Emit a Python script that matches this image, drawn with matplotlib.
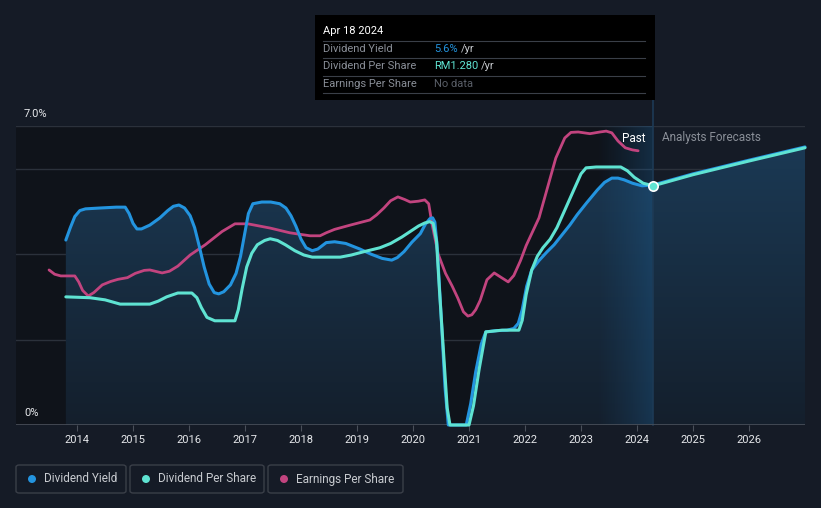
import numpy as np
import matplotlib
matplotlib.use("Agg")
import matplotlib.pyplot as plt
from matplotlib.patches import FancyBboxPatch, Rectangle, Ellipse
from matplotlib.colors import LinearSegmentedColormap

# ---------------- data (values in % on the chart scale) ----------------
dy_x = [2013.80, 2013.88, 2013.96, 2014.05, 2014.15, 2014.41, 2014.70, 2014.86, 2014.93, 2015.00,
        2015.07, 2015.15, 2015.30, 2015.48, 2015.62, 2015.72, 2015.82, 2015.92, 2016.02, 2016.10,
        2016.18, 2016.27, 2016.36, 2016.45, 2016.53, 2016.62, 2016.74, 2016.84, 2016.92, 2016.99,
        2017.06, 2017.14, 2017.30, 2017.46, 2017.62, 2017.73, 2017.82, 2017.91, 2018.00, 2018.09,
        2018.20, 2018.30, 2018.45, 2018.60, 2018.80, 2019.05, 2019.25, 2019.45, 2019.62, 2019.72,
        2019.84, 2019.98, 2020.13, 2020.22, 2020.30, 2020.35, 2020.39, 2020.43, 2020.50, 2020.57,
        2020.63, 2020.95, 2021.03, 2021.12, 2021.22, 2021.30, 2021.50, 2021.68, 2021.80, 2021.88,
        2021.95, 2022.03, 2022.12, 2022.25, 2022.39, 2022.52, 2022.66, 2022.80, 2022.93, 2023.10,
        2023.29, 2023.42, 2023.55, 2023.66, 2023.77, 2023.92, 2024.09, 2024.29, 2025.0, 2026.0,
        2027.0]
dy_y = [4.33, 4.62, 4.88, 5.02, 5.06, 5.08, 5.10, 5.10, 4.95, 4.72,
        4.59, 4.59, 4.68, 4.85, 5.02, 5.12, 5.15, 5.08, 4.90, 4.62,
        4.20, 3.70, 3.30, 3.10, 3.07, 3.12, 3.28, 3.55, 3.95, 4.45,
        4.95, 5.18, 5.22, 5.22, 5.18, 5.08, 4.90, 4.65, 4.35, 4.15,
        4.08, 4.12, 4.27, 4.29, 4.25, 4.12, 4.00, 3.90, 3.86, 3.92,
        4.06, 4.28, 4.48, 4.70, 4.83, 4.85, 4.75, 4.20, 2.60, 0.90,
        0.00, 0.00, 0.50, 1.25, 1.90, 2.18, 2.21, 2.22, 2.26, 2.38,
        2.70, 3.25, 3.63, 3.85, 4.05, 4.22, 4.45, 4.68, 4.92, 5.20,
        5.50, 5.68, 5.78, 5.78, 5.74, 5.66, 5.60, 5.62, 5.88, 6.20,
        6.51]

dps_x = [2013.80, 2014.23, 2014.50, 2014.77, 2015.30, 2015.45, 2015.60, 2015.80, 2016.05, 2016.14,
         2016.22, 2016.32, 2016.46, 2016.82, 2016.88, 2016.95, 2017.03, 2017.12, 2017.22, 2017.35,
         2017.45, 2017.58, 2017.72, 2017.89, 2018.05, 2018.20, 2018.70, 2018.90, 2019.10, 2019.41,
         2019.60, 2019.80, 2019.95, 2020.10, 2020.21, 2020.30, 2020.36, 2020.42, 2020.47, 2020.55,
         2020.61, 2020.66, 2021.00, 2021.08, 2021.18, 2021.30, 2021.59, 2021.89, 2021.95, 2022.02,
         2022.12, 2022.22, 2022.32, 2022.45, 2022.57, 2022.70, 2022.87, 2023.00, 2023.09, 2023.27,
         2023.71, 2023.83, 2023.95, 2024.11, 2024.29, 2025.0, 2026.0, 2027.0]
dps_y = [3.00, 2.98, 2.93, 2.83, 2.83, 2.90, 3.00, 3.09, 3.09, 2.98,
         2.75, 2.52, 2.44, 2.44, 2.70, 3.20, 3.70, 4.02, 4.22, 4.32,
         4.36, 4.32, 4.22, 4.08, 3.98, 3.93, 3.93, 3.98, 4.05, 4.15,
         4.25, 4.40, 4.53, 4.66, 4.73, 4.76, 4.72, 4.30, 3.20, 1.60,
         0.40, 0.00, 0.00, 0.45, 1.30, 2.18, 2.22, 2.22, 2.45, 3.05,
         3.63, 3.95, 4.15, 4.35, 4.62, 5.00, 5.50, 5.88, 6.02, 6.04,
         6.04, 5.95, 5.80, 5.66, 5.60, 5.86, 6.18, 6.49]

eps_x = [2013.50, 2013.60, 2013.71, 2013.96, 2014.03, 2014.10, 2014.20, 2014.30, 2014.45, 2014.60,
         2014.73, 2014.90, 2015.04, 2015.20, 2015.30, 2015.52, 2015.65, 2015.80, 2016.02, 2016.29,
         2016.59, 2016.82, 2017.05, 2017.45, 2017.80, 2018.16, 2018.34, 2018.45, 2018.60, 2018.88,
         2019.23, 2019.35, 2019.48, 2019.60, 2019.73, 2019.85, 2019.95, 2020.10, 2020.21, 2020.28,
         2020.34, 2020.45, 2020.58, 2020.70, 2020.80, 2020.90, 2020.98, 2021.05, 2021.12, 2021.20,
         2021.32, 2021.45, 2021.58, 2021.70, 2021.80, 2021.92, 2022.02, 2022.25, 2022.40, 2022.55,
         2022.71, 2022.82, 2022.95, 2023.16, 2023.34, 2023.45, 2023.55, 2023.66, 2023.79, 2023.92,
         2024.02]
eps_y = [3.63, 3.53, 3.49, 3.49, 3.35, 3.15, 3.02, 3.10, 3.28, 3.36,
         3.41, 3.45, 3.55, 3.62, 3.63, 3.56, 3.60, 3.72, 3.98, 4.22,
         4.53, 4.71, 4.71, 4.61, 4.50, 4.43, 4.43, 4.50, 4.58, 4.68,
         4.80, 4.92, 5.08, 5.25, 5.34, 5.28, 5.22, 5.24, 5.27, 5.18,
         4.70, 4.00, 3.55, 3.25, 2.97, 2.65, 2.55, 2.58, 2.70, 2.92,
         3.40, 3.56, 3.45, 3.35, 3.50, 3.85, 4.20, 4.85, 5.55, 6.25,
         6.72, 6.85, 6.86, 6.82, 6.86, 6.88, 6.84, 6.65, 6.49, 6.44,
         6.42]

year_ticks = [2014, 2015, 2016, 2017, 2018, 2019, 2020, 2021, 2022, 2023, 2024, 2025, 2026]
now_x = 2024.29
now_y = 5.60

C_BG = "#151b26"
C_PAST = "#0f131a"
C_DY = "#2394df"
C_DPS = "#5fe3d2"
C_EPS = "#c2447f"
X0, X1 = 2012.91, 2027.0

fig = plt.figure(figsize=(8.21, 5.08), dpi=100)
fig.patch.set_facecolor(C_BG)
W, H = 821, 508
ax = fig.add_axes([16 / W, (H - 425) / H, (805 - 16) / W, (425 - 126) / H])
ax.set_facecolor(C_BG)
for s in ax.spines.values():
    s.set_visible(False)

# darker past region
ax.axvspan(X0, now_x, color=C_PAST, zorder=0, lw=0)

# gridlines
for v in [2, 4, 6, 7]:
    ax.axhline(v, color="#2b313b", lw=1, zorder=1)

# gradient fill under dividend yield
poly = ax.fill_between(dy_x, dy_y, 0, color="none", lw=0, zorder=2)
grad = np.linspace(0, 1, 256).reshape(-1, 1)
cmap = LinearSegmentedColormap.from_list("g", ["#141f2c", "#1b3b57"])
im = ax.imshow(grad, cmap=cmap, aspect="auto", origin="lower",
               extent=[X0, X1, 0, 7.0], zorder=2)
im.set_clip_path(poly.get_paths()[0], transform=ax.transData)

# past highlight band (gradient)
band = np.linspace(0, 1, 256).reshape(1, -1)
cmap2 = LinearSegmentedColormap.from_list("b", [(0.12, 0.35, 0.55, 0.0), (0.12, 0.40, 0.62, 0.32)])
ax.imshow(band, cmap=cmap2, aspect="auto", extent=[now_x - 1.0, now_x, 0, 7.0], zorder=3)

ax.set_xlim(X0, X1)
ax.set_ylim(0, 7.0)

# vertical now line extending to tooltip
ax.plot([now_x, now_x], [0, 7.75], color="#1d3a55", lw=1.2, zorder=3, clip_on=False)

ax.axhline(0, color="#4a505a", lw=1.2, zorder=4)

# lines
ax.plot(eps_x, eps_y, color=C_EPS, lw=2.0, zorder=5, solid_capstyle="round", clip_on=False)
ax.plot(dy_x, dy_y, color=C_DY, lw=2.2, zorder=5, solid_capstyle="round", clip_on=False)
ax.plot(dps_x, dps_y, color=C_DPS, lw=2.2, zorder=5, solid_capstyle="round", clip_on=False)
ax.scatter([now_x], [now_y], s=45, color=C_DPS, edgecolor="white", linewidth=1.2, zorder=7)

# ticks
ax.set_xticks(year_ticks)
ax.set_xticklabels([str(y) for y in year_ticks], color="#e6e8eb", fontsize=8, family="Roboto")
ax.tick_params(axis="x", length=4, color="#4a505a", pad=3)
ax.set_yticks([])

# y labels
fig.text(24 / W, 1 - 114 / H, "7.0%", color="#e6e8eb", fontsize=8, va="center", family="Roboto")
fig.text(24 / W, 1 - 413 / H, "0%", color="#e6e8eb", fontsize=8, va="center", family="Roboto")

# Past / forecast labels
fig.text(645 / W, 1 - 138 / H, "Past", color="white", fontsize=8.5, va="center", ha="right", family="Roboto")
fig.text(662 / W, 1 - 138 / H, "Analysts Forecasts", color="#8a8f98", fontsize=8.5, va="center", family="Roboto")

# tooltip
fig.patches.append(Rectangle((315 / W, 1 - 100 / H), 340 / W, 85 / H, transform=fig.transFigure,
                             facecolor="black", edgecolor="none", zorder=10))
fig.text(323 / W, 1 - 31 / H, "Apr 18 2024", color="white", fontsize=8, va="center", family="Roboto", zorder=11)
rows = [("Dividend Yield", "5.6%", C_DY, 49), ("Dividend Per Share", "RM1.280", C_DPS, 66),
        ("Earnings Per Share", "No data", None, 84)]
for lab, val, col, yy in rows:
    fig.text(323 / W, 1 - yy / H, lab, color="#8a8f98", fontsize=8, va="center", family="Roboto", zorder=11)
    if col is None:
        fig.text(434 / W, 1 - yy / H, val, color="#5a5f68", fontsize=8, va="center", family="Roboto", zorder=11)
    else:
        t = fig.text(434 / W, 1 - yy / H, val, color=col, fontsize=8, va="center", family="Roboto", zorder=11)
        fig.canvas.draw()
        bb = t.get_window_extent()
        fig.text(bb.x1 / W + 3 / W, 1 - yy / H, "/yr", color="#c8cbd0", fontsize=8, va="center", family="Roboto", zorder=11)
for yy in [41, 58, 76, 93]:
    fig.lines.append(plt.Line2D([323 / W, 645 / W], [1 - yy / H, 1 - yy / H], transform=fig.transFigure,
                                color="#3a3f48", lw=0.8, zorder=11))

# legend boxes
leg = [("Dividend Yield", C_DY, 16, 126), ("Dividend Per Share", C_DPS, 130, 264),
       ("Earnings Per Share", C_EPS, 268, 403)]
for lab, col, x0, x1 in leg:
    fig.patches.append(FancyBboxPatch((x0 / W, 1 - 493 / H), (x1 - x0) / W, 28 / H,
                                      boxstyle="round,pad=0,rounding_size=0.004", transform=fig.transFigure,
                                      facecolor="none", edgecolor="#3a3f48", lw=1))
    fig.patches.append(Ellipse(((x0 + 16) / W, 1 - 479 / H), 8 / W, 8 / H,
                               transform=fig.transFigure, facecolor=col, edgecolor="none"))
    fig.text((x0 + 28) / W, 1 - 479 / H, lab, color="#c8cbd0", fontsize=8.5, va="center", family="Roboto")

fig.savefig("out.png", dpi=100, facecolor=C_BG)
